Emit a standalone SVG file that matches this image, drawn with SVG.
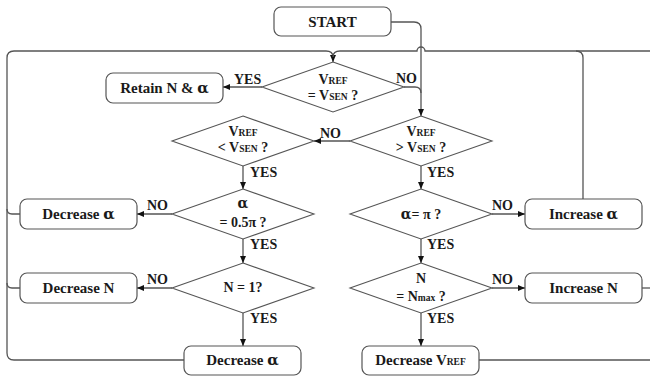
<svg xmlns="http://www.w3.org/2000/svg" width="650" height="377" viewBox="0 0 650 377">
<defs>
<style>
.box{fill:#fff;stroke:#555;stroke-width:1.2}
.dia{fill:#fff;stroke:#555;stroke-width:1.1}
.ln{fill:none;stroke:#555;stroke-width:1.3}
.t{font-family:"Liberation Serif","Times New Roman",serif;font-weight:bold;font-size:15px;fill:#1a1a1a;text-anchor:middle}
.d{font-size:14px}
.lb{font-family:"Liberation Serif","Times New Roman",serif;font-weight:bold;font-size:14px;fill:#1a1a1a}
.sc{font-size:9.5px}
.al{font-family:"DejaVu Serif",serif;font-weight:bold}
</style>
<marker id="ah" markerWidth="7" markerHeight="6" refX="7" refY="3" orient="auto" markerUnits="userSpaceOnUse">
<path d="M0,0 L7,3 L0,6 z" fill="#111"/>
</marker>
</defs>
<rect width="650" height="377" fill="#fff"/>

<g id="connectors">
<path class="ln" d="M391,22 H414 Q421,22 421,29 V116" marker-end="url(#ah)"/>
<path class="ln" d="M404,87 H415 Q421,87 421,93"/>
<path class="ln" d="M184,360 H14 Q7,360 7,353 V58 Q7,51 14,51 H326 Q333,51 333,57 V62" marker-end="url(#ah)"/>
<path class="ln" d="M655,51 H425 A4,4 0 0 0 417,51 H340 Q333,51 333,57"/>
<path class="ln" d="M583,199 V58 Q583,51 576,51"/>
<path class="ln" d="M642,288 H655"/>
<path class="ln" d="M479,360 H655"/>
<path class="ln" d="M20,214 H12 Q7,214 7,209"/>
<path class="ln" d="M20,288 H12 Q7,288 7,283"/>
<path class="ln" d="M262,87 H223" marker-end="url(#ah)"/>
<path class="ln" d="M350,141 H314" marker-end="url(#ah)"/>
<path class="ln" d="M243,166 V189" marker-end="url(#ah)"/>
<path class="ln" d="M172,214 H137" marker-end="url(#ah)"/>
<path class="ln" d="M243,239 V263" marker-end="url(#ah)"/>
<path class="ln" d="M172,288 H137" marker-end="url(#ah)"/>
<path class="ln" d="M243,313 V346" marker-end="url(#ah)"/>
<path class="ln" d="M421,166 V189" marker-end="url(#ah)"/>
<path class="ln" d="M492,214 H525" marker-end="url(#ah)"/>
<path class="ln" d="M421,239 V263" marker-end="url(#ah)"/>
<path class="ln" d="M492,288 H525" marker-end="url(#ah)"/>
<path class="ln" d="M421,313 V346" marker-end="url(#ah)"/>
<text class="lb" x="234" y="84">YES</text>
<text class="lb" x="396" y="83">NO</text>
<text class="lb" x="320" y="138">NO</text>
<text class="lb" x="250" y="177">YES</text>
<text class="lb" x="427" y="177">YES</text>
<text class="lb" x="147" y="210">NO</text>
<text class="lb" x="250" y="249">YES</text>
<text class="lb" x="492" y="210">NO</text>
<text class="lb" x="427" y="249">YES</text>
<text class="lb" x="147" y="284">NO</text>
<text class="lb" x="492" y="284">NO</text>
<text class="lb" x="250" y="323">YES</text>
<text class="lb" x="427" y="323">YES</text>
</g>

<g id="start"><rect class="box" x="274" y="7" width="117" height="29" rx="7"/><text class="t" x="332.5" y="27">START</text></g>
<g id="retain"><rect class="box" x="106" y="73" width="117" height="30" rx="7"/><text class="t" x="164.5" y="93">Retain N &amp; <tspan class="al">α</tspan></text></g>
<g id="decAlpha1"><rect class="box" x="20" y="199" width="117" height="30" rx="7"/><text class="t" x="78.5" y="219">Decrease <tspan class="al">α</tspan></text></g>
<g id="decN"><rect class="box" x="20" y="273" width="117" height="30" rx="7"/><text class="t" x="78.5" y="293">Decrease N</text></g>
<g id="decAlpha2"><rect class="box" x="184" y="346" width="117" height="29" rx="7"/><text class="t" x="242.5" y="365">Decrease <tspan class="al">α</tspan></text></g>
<g id="decVref"><rect class="box" x="362" y="346" width="117" height="29" rx="7"/><text class="t" x="420.5" y="365">Decrease V<tspan class="sc">REF</tspan></text></g>
<g id="incAlpha"><rect class="box" x="525" y="199" width="117" height="30" rx="7"/><text class="t" x="583.5" y="219">Increase <tspan class="al">α</tspan></text></g>
<g id="incN"><rect class="box" x="525" y="273" width="117" height="30" rx="7"/><text class="t" x="583.5" y="293">Increase N</text></g>

<g id="d1"><polygon class="dia" points="333,62 404,87 333,112 262,87"/>
<text class="t d" x="333" y="84">V<tspan class="sc">REF</tspan></text>
<text class="t d" x="333" y="100">= V<tspan class="sc">SEN</tspan> ?</text></g>
<g id="d2"><polygon class="dia" points="421,116 492,141 421,166 350,141"/>
<text class="t d" x="421" y="136">V<tspan class="sc">REF</tspan></text>
<text class="t d" x="421" y="152">&gt; V<tspan class="sc">SEN</tspan> ?</text></g>
<g id="d3"><polygon class="dia" points="243,116 314,141 243,166 172,141"/>
<text class="t d" x="243" y="136">V<tspan class="sc">REF</tspan></text>
<text class="t d" x="243" y="152">&lt; V<tspan class="sc">SEN</tspan> ?</text></g>
<g id="d4"><polygon class="dia" points="243,189 314,214 243,239 172,214"/>
<text class="t d" x="243" y="208"><tspan class="al">α</tspan></text>
<text class="t d" x="243" y="227">= 0.5π ?</text></g>
<g id="d5"><polygon class="dia" points="243,263 314,288 243,313 172,288"/>
<text class="t d" x="243" y="292">N = 1?</text></g>
<g id="d6"><polygon class="dia" points="421,189 492,214 421,239 350,214"/>
<text class="t d" x="421" y="219"><tspan class="al">α</tspan>= π ?</text></g>
<g id="d7"><polygon class="dia" points="421,263 492,288 421,313 350,288"/>
<text class="t d" x="421" y="283">N</text>
<text class="t d" x="421" y="301">= N<tspan class="sc">max</tspan> ?</text></g>
</svg>
